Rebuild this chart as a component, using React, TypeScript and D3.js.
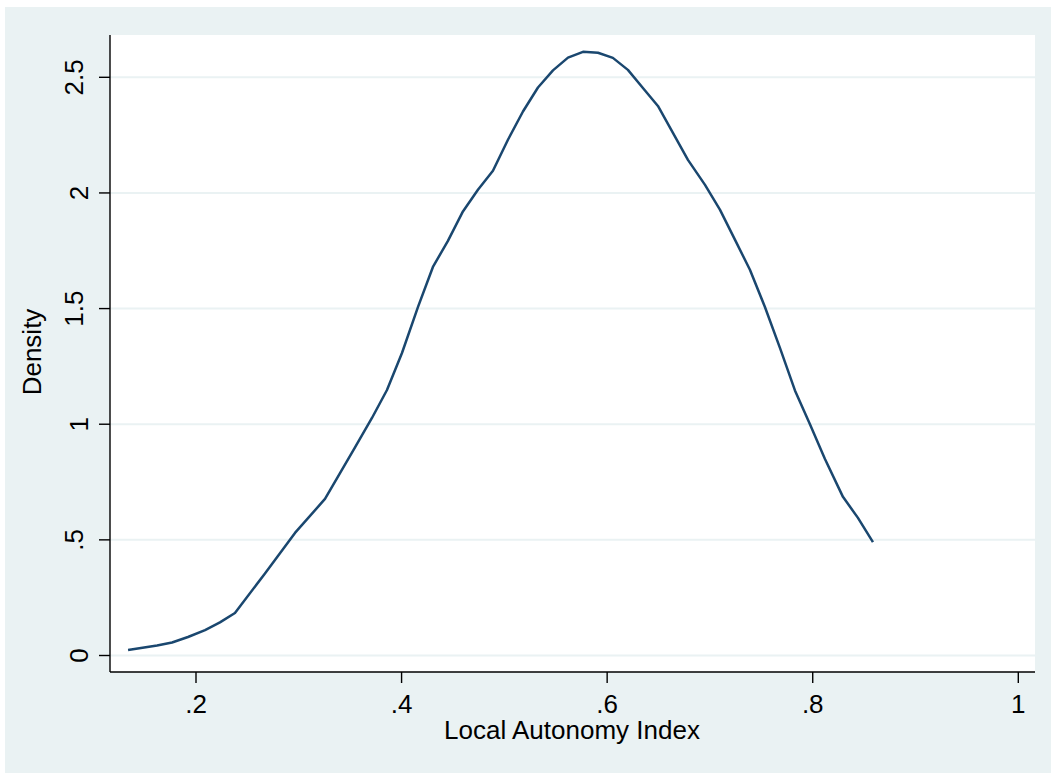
import React from "react";
import * as d3 from "d3";

// Kernel density estimate of the Local Autonomy Index
const gridX: number[] = [
  0.1339, 0.1621, 0.1767, 0.1922, 0.2088, 0.2233, 0.2379, 0.2671, 0.2963,
  0.3255, 0.3401, 0.3547, 0.3712, 0.3858, 0.4004, 0.416, 0.4305, 0.4451,
  0.4597, 0.4743, 0.4889, 0.5035, 0.5181, 0.5327, 0.5473, 0.5619, 0.5765,
  0.5911, 0.6056, 0.6202, 0.6348, 0.6494, 0.664, 0.6786, 0.6952, 0.7097,
  0.7243, 0.7389, 0.7535, 0.7681, 0.7827, 0.7973, 0.8119, 0.8294, 0.844,
  0.8586,
];
const density: number[] = [
  0.024, 0.043, 0.056, 0.08, 0.11, 0.143, 0.184, 0.355, 0.53, 0.677, 0.789,
  0.9, 1.027, 1.148, 1.308, 1.507, 1.68, 1.793, 1.92, 2.014, 2.096, 2.23,
  2.352, 2.456, 2.53, 2.585, 2.61, 2.606, 2.584, 2.532, 2.454, 2.376, 2.26,
  2.143, 2.035, 1.928, 1.798, 1.668, 1.507, 1.33, 1.146, 1.0, 0.85, 0.686,
  0.595, 0.49,
];
const xTicks: number[] = [0.2, 0.4, 0.6, 0.8, 1];
const xTickLabels: string[] = [".2", ".4", ".6", ".8", "1"];
const yTicks: number[] = [0, 0.5, 1, 1.5, 2, 2.5];
const yTickLabels: string[] = ["0", ".5", "1", "1.5", "2", "2.5"];
const xTitle = "Local Autonomy Index";
const yTitle = "Density";

const W = 1056;
const H = 774;
const plot = { left: 110, top: 35, right: 1035, bottom: 672 };
const BG = "#EAF2F3";
const LINE = "#1A476F";
const FONT = "'Liberation Sans', Arial, Helvetica, sans-serif";

export default function App() {
  const x = d3.scaleLinear().domain([0.2, 1]).range([196, 1018.3]);
  const y = d3.scaleLinear().domain([0, 2.5]).range([655.5, 77.3]);

  const pts: [number, number][] = gridX.map((v, i) => [v, density[i]]);
  const line = d3
    .line<[number, number]>()
    .x((d) => x(d[0]))
    .y((d) => y(d[1]));

  return (
    <svg
      width={W}
      height={H}
      style={{ position: "absolute", left: 0, top: 0, background: "#fff" }}
    >
      <rect x={5} y={7} width={1046} height={766} fill={BG} />
      <rect
        x={plot.left}
        y={plot.top}
        width={plot.right - plot.left}
        height={plot.bottom - plot.top}
        fill="#fff"
      />
      {/* horizontal gridlines */}
      {yTicks.map((t) => (
        <line
          key={"g" + t}
          x1={plot.left}
          x2={plot.right}
          y1={y(t)}
          y2={y(t)}
          stroke={BG}
          strokeWidth={2}
        />
      ))}
      {/* density curve */}
      <path
        d={line(pts) || ""}
        fill="none"
        stroke={LINE}
        strokeWidth={2.5}
        strokeLinejoin="round"
      />
      {/* axes */}
      <line
        x1={plot.left}
        x2={plot.left}
        y1={plot.top}
        y2={plot.bottom}
        stroke="#000"
        strokeWidth={1.4}
      />
      <line
        x1={plot.left}
        x2={plot.right}
        y1={plot.bottom}
        y2={plot.bottom}
        stroke="#000"
        strokeWidth={1.4}
      />
      {yTicks.map((t, i) => (
        <g key={"y" + t}>
          <line
            x1={plot.left - 11}
            x2={plot.left}
            y1={y(t)}
            y2={y(t)}
            stroke="#000"
            strokeWidth={1.4}
          />
          <text
            transform={`translate(${yTickLabels[i].includes(".") ? 83 : 88},${y(
              t
            )}) rotate(-90)`}
            textAnchor="middle"
            fontFamily={FONT}
            fontSize={26}
            fill="#000"
          >
            {yTickLabels[i]}
          </text>
        </g>
      ))}
      {xTicks.map((t, i) => (
        <g key={"x" + t}>
          <line
            x1={x(t)}
            x2={x(t)}
            y1={plot.bottom}
            y2={plot.bottom + 11}
            stroke="#000"
            strokeWidth={1.4}
          />
          <text
            x={x(t)}
            y={713}
            textAnchor="middle"
            fontFamily={FONT}
            fontSize={26}
            fill="#000"
          >
            {xTickLabels[i]}
          </text>
        </g>
      ))}
      <text
        x={572}
        y={739}
        textAnchor="middle"
        fontFamily={FONT}
        fontSize={26}
        fill="#000"
      >
        {xTitle}
      </text>
      <text
        transform="translate(41,352) rotate(-90)"
        textAnchor="middle"
        fontFamily={FONT}
        fontSize={26}
        fill="#000"
      >
        {yTitle}
      </text>
    </svg>
  );
}
